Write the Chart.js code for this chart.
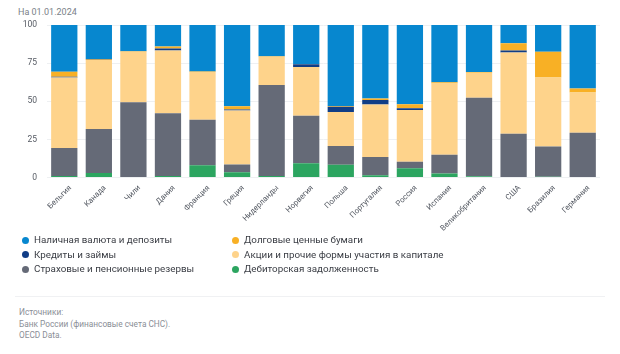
<!DOCTYPE html>
<html>
<head>
<meta charset="utf-8">
<script src="https://cdn.jsdelivr.net/npm/chart.js@4.4.1/dist/chart.umd.min.js"></script>
<style>
  html, body { margin: 0; padding: 0; background: #fff; }
  body { width: 620px; height: 354px; position: relative; overflow: hidden; font-family: Roboto, "Noto Sans", sans-serif; }
  .date { position: absolute; left: 18px; top: 7px; font-size: 9px; color: #7a7f88; }
  .wrap { position: absolute; left: 0; top: 0; width: 620px; height: 235px; }
  .legend { position: absolute; top: 233px; left: 0; width: 620px; }
  .lg { position: absolute; font-size: 9.8px; color: #3a3d44; white-space: nowrap; line-height: 14px; }
  .lg i { position: absolute; left: -12px; top: 3.5px; width: 7px; height: 7px; border-radius: 50%; }
  .rule { position: absolute; left: 15px; right: 15px; top: 296px; height: 1px; background: #f0f1f3; }
  .src { position: absolute; left: 19px; top: 307px; font-size: 8.3px; color: #8a8e96; line-height: 11.5px; }
</style>
</head>
<body>
<div class="date">На 01.01.2024</div>
<div class="wrap"><canvas id="c"></canvas></div>
<div class="legend" id="legend"></div>
<div class="rule"></div>
<div class="src">Источники:<br>Банк России (финансовые счета СНС).<br>OECD Data.</div>
<script>
const countries = ['Бельгия', 'Канада', 'Чили', 'Дания', 'Франция', 'Греция', 'Нидерланды', 'Норвегия',
  'Польша', 'Португалия', 'Россия', 'Испания', 'Великобритания', 'США', 'Бразилия', 'Германия'];

// доли, % (снизу вверх в столбце)
const receivables = [1, 3, 0.3, 1, 8, 3.4, 1, 9.3, 8.4, 1.5, 6, 2.7, 0.8, 0, 0.5, 0];
const insurance   = [18.3, 28.8, 49, 41.1, 29.9, 5.2, 59.7, 31.2, 12.3, 11.9, 4.4, 12.3, 51.5, 28.7, 19.9, 29.4];
const equity      = [46.2, 45.2, 33.2, 41.1, 31.3, 35.4, 18.5, 32, 22.2, 34.4, 33.9, 46.7, 16.4, 53.2, 45.1, 26.4];
const loans       = [0.6, 0.2, 0, 1.4, 0, 0.6, 0, 1.7, 3.5, 3, 1.1, 0, 0, 1.3, 0, 0];
const debt        = [3.3, 0.5, 0.3, 1.3, 0.3, 2.1, 0.3, 0.3, 0.5, 1, 2.6, 0.8, 0.4, 4.8, 17, 2.6];
const cash        = [30.6, 22.3, 17.2, 14.1, 30.5, 53.3, 20.5, 25.5, 53.1, 48.2, 52, 37.5, 30.9, 12, 17.5, 41.6];

const yTicks = [0, 25, 50, 75, 100];

const SERIES = [
  { label: 'Дебиторская задолженность', data: receivables, color: '#2ca560' },
  { label: 'Страховые и пенсионные резервы', data: insurance, color: '#656a77' },
  { label: 'Акции и прочие формы участия в капитале', data: equity, color: '#fed38b' },
  { label: 'Кредиты и займы', data: loans, color: '#103d86' },
  { label: 'Долговые ценные бумаги', data: debt, color: '#f8b025' },
  { label: 'Наличная валюта и депозиты', data: cash, color: '#0787cf' },
];

// легенда в две колонки, как в оригинале
const legendOrder = [
  ['Наличная валюта и депозиты', 34, 0], ['Кредиты и займы', 34, 14.5], ['Страховые и пенсионные резервы', 34, 29],
  ['Долговые ценные бумаги', 244, 0], ['Акции и прочие формы участия в капитале', 244, 14.5], ['Дебиторская задолженность', 244, 29],
];
const legendEl = document.getElementById('legend');
legendOrder.forEach(([name, x, y]) => {
  const s = SERIES.find(d => d.label === name);
  const el = document.createElement('div');
  el.className = 'lg';
  el.style.left = x + 'px';
  el.style.top = y + 'px';
  el.innerHTML = `<i style="background:${s.color}"></i>${s.label}`;
  legendEl.appendChild(el);
});

new Chart(document.getElementById('c'), {
  type: 'bar',
  data: {
    labels: countries,
    datasets: SERIES.map(s => ({
      label: s.label, data: s.data, backgroundColor: s.color,
      borderWidth: 0, barPercentage: 0.76, categoryPercentage: 1,
    })),
  },
  options: {
    responsive: true, maintainAspectRatio: false, animation: false,
    layout: { padding: { left: 0, right: 20, top: 25, bottom: 0 } },
    plugins: { legend: { display: false }, tooltip: { enabled: false } },
    scales: {
      x: {
        stacked: true,
        grid: { display: false, drawTicks: false },
        border: { display: false },
        ticks: {
          autoSkip: false, minRotation: 45, maxRotation: 45, padding: 6, labelOffset: 6,
          color: '#555a63', font: { family: 'Roboto, sans-serif', size: 7.8 },
        },
        afterFit: s => { s.height = 57.5; },
      },
      y: {
        stacked: true, min: 0, max: 100,
        afterBuildTicks: s => { s.ticks = yTicks.map(v => ({ value: v })); },
        grid: { color: '#eef0f2', drawTicks: false },
        border: { display: false },
        ticks: { padding: 10, color: '#555a63', font: { family: 'Roboto, sans-serif', size: 8.5 } },
        afterFit: s => { s.width = 47; },
      },
    },
  },
});
</script>
</body>
</html>
